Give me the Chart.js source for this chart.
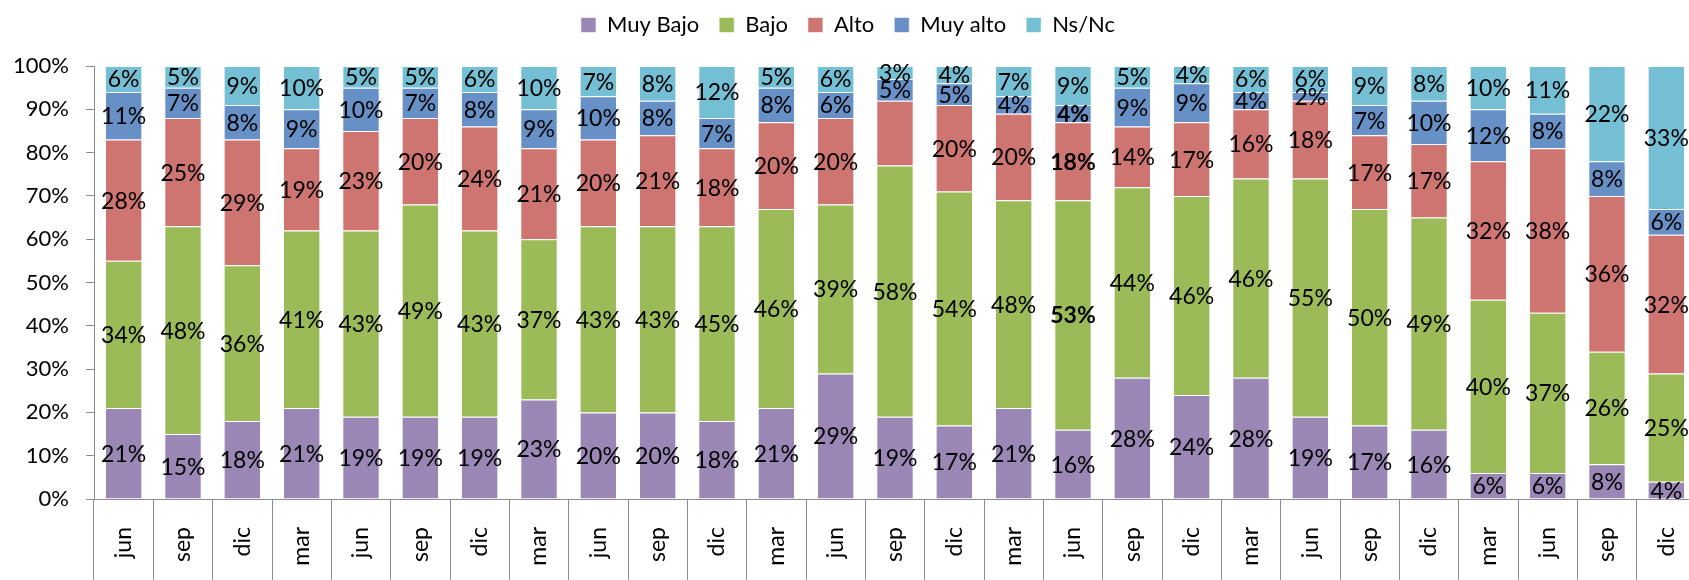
<!DOCTYPE html>
<html>
<head>
<meta charset="utf-8">
<script src="https://cdn.jsdelivr.net/npm/chart.js@4.4.1/dist/chart.umd.min.js"></script>
<style>
  html, body { margin: 0; padding: 0; background: #fff; overflow: hidden; }
  #wrap { position: relative; width: 1696px; height: 580px; }
</style>
</head>
<body>
<div id="wrap"><canvas id="myChart"></canvas></div>
<script>
var xValues = ["jun", "sep", "dic", "mar", "jun", "sep", "dic", "mar", "jun", "sep", "dic", "mar", "jun", "sep",
    "dic", "mar", "jun", "sep", "dic", "mar", "jun", "sep", "dic", "mar", "jun", "sep", "dic"];
var seriesNames = ["Muy Bajo", "Bajo", "Alto", "Muy alto", "Ns/Nc"];
var muyBajo = [21, 15, 18, 21, 19, 19, 19, 23, 20, 20, 18, 21, 29, 19, 17, 21, 16, 28, 24, 28, 19, 17, 16, 6, 6, 8, 4];
var bajo = [34, 48, 36, 41, 43, 49, 43, 37, 43, 43, 45, 46, 39, 58, 54, 48, 53, 44, 46, 46, 55, 50, 49, 40, 37, 26, 25];
var alto = [28, 25, 29, 19, 23, 20, 24, 21, 20, 21, 18, 20, 20, 15, 20, 20, 18, 14, 17, 16, 18, 17, 17, 32, 38, 36, 32];
var muyAlto = [11, 7, 8, 9, 10, 7, 8, 9, 10, 8, 7, 8, 6, 5, 5, 4, 4, 9, 9, 4, 2, 7, 10, 12, 8, 8, 6];
var nsnc = [6, 5, 9, 10, 5, 5, 6, 10, 7, 8, 12, 5, 6, 3, 4, 7, 9, 5, 4, 6, 6, 9, 8, 10, 11, 22, 33];
var yTicks = [0, 10, 20, 30, 40, 50, 60, 70, 80, 90, 100];

var barColors = ["#9b87b6", "#9bbb59", "#ce7571", "#6690c6", "#74bfd4"];
// labels that the original leaves out, and the column written in bold
var hiddenLabels = ["2-13"];
var boldColumn = 16;
var boldSeries = [1, 2, 3];

var FONT = "Lato, 'Open Sans', sans-serif";

var allData = [muyBajo, bajo, alto, muyAlto, nsnc];
var datasets = [];
for (var i = 0; i < allData.length; i++) {
    datasets.push({
        label: seriesNames[i],
        data: allData[i],
        backgroundColor: barColors[i],
        borderColor: "rgba(255,255,255,0.55)",
        borderWidth: 1,
        barPercentage: 0.63,
        categoryPercentage: 1
    });
}

var segmentLabels = {
    id: "segmentLabels",
    afterDatasetsDraw: function (chart) {
        var ctx = chart.ctx;
        ctx.save();
        ctx.textAlign = "center";
        ctx.textBaseline = "middle";
        ctx.fillStyle = "#000";
        chart.data.datasets.forEach(function (ds, di) {
            var meta = chart.getDatasetMeta(di);
            meta.data.forEach(function (bar, j) {
                if (hiddenLabels.indexOf(di + "-" + j) >= 0) return;
                var bold = (j === boldColumn && boldSeries.indexOf(di) >= 0);
                ctx.font = (bold ? "bold " : "") + "23px " + FONT;
                ctx.fillText(ds.data[j] + "%", bar.x, (bar.y + bar.base) / 2 + 1);
            });
        });
        ctx.restore();
    }
};

var legendGap = {
    id: "legendGap",
    beforeInit: function (chart) {
        var fit = chart.legend.fit;
        chart.legend.fit = function () {
            fit.bind(chart.legend)();
            this.height += 20;
        };
    }
};

new Chart("myChart", {
    type: "bar",
    data: {
        labels: xValues,
        datasets: datasets
    },
    plugins: [segmentLabels, legendGap],
    options: {
        responsive: true,
        maintainAspectRatio: false,
        animation: false,
        layout: { padding: { top: -6, left: 0, right: 0, bottom: 0 } },
        scales: {
            x: {
                stacked: true,
                grid: {
                    offset: true,
                    drawOnChartArea: false,
                    tickLength: 81,
                    color: "#8c8c8c"
                },
                border: { color: "#8c8c8c", width: 1 },
                ticks: {
                    minRotation: 90,
                    maxRotation: 90,
                    padding: -53,
                    color: "#000",
                    font: { family: FONT, size: 23 }
                },
                afterFit: function (scale) { scale.height = 81; }
            },
            y: {
                stacked: true,
                min: 0,
                max: 100,
                afterBuildTicks: function (scale) {
                    scale.ticks = yTicks.map(function (v) { return { value: v }; });
                },
                grid: {
                    drawOnChartArea: false,
                    tickLength: 8,
                    color: "#8c8c8c"
                },
                border: { color: "#8c8c8c", width: 1 },
                ticks: {
                    padding: 17,
                    color: "#000",
                    font: { family: FONT, size: 22 },
                    callback: function (v) { return v + "%"; }
                },
                afterFit: function (scale) { scale.width = 94; }
            }
        },
        plugins: {
            legend: {
                position: "top",
                labels: {
                    boxWidth: 15,
                    boxHeight: 15,
                    padding: 20,
                    color: "#000",
                    font: { family: FONT, size: 22 }
                }
            },
            tooltip: { enabled: false }
        }
    }
});
</script>
</body>
</html>
